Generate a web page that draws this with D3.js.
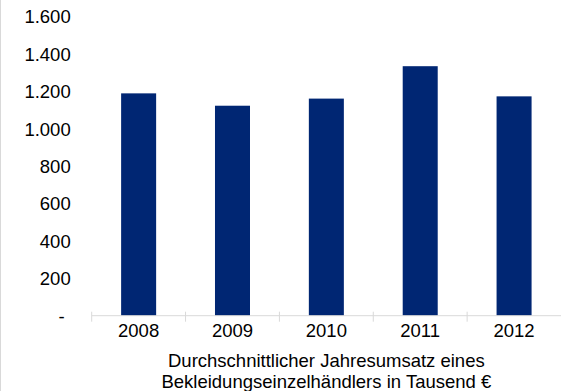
<!DOCTYPE html>
<html>
<head>
<meta charset="utf-8">
<script src="https://cdn.jsdelivr.net/npm/d3@7"></script>
<style>
  html, body { margin: 0; padding: 0; background: #fff; }
  svg { display: block; }
  text { font-family: "Liberation Sans", Arial, sans-serif; fill: #000; }
</style>
</head>
<body>
<svg id="chart" width="561" height="391"></svg>
<script>
// Average annual revenue per clothing retailer (thousand €)
const years = ["2008", "2009", "2010", "2011", "2012"];
const revenue = [1187, 1121, 1159, 1332, 1171];
const yTicks = [0, 200, 400, 600, 800, 1000, 1200, 1400, 1600];
const titleLines = ["Durchschnittlicher Jahresumsatz eines", "Bekleidungseinzelhändlers in Tausend €"];

(function () {
  const svg = d3.select("#chart");
  const W = 561, H = 391;
  const plotLeft = 91.7, plotRight = 561, plotTop = 16, plotBottom = 315.7;
  const fontSize = 18.5;

  // thin frame line on the left edge
  svg.append("line")
    .attr("x1", 0.5).attr("x2", 0.5).attr("y1", 0).attr("y2", H)
    .attr("stroke", "#d9d9d9").attr("stroke-width", 1);

  const x = d3.scaleBand().domain(years).range([plotLeft, plotRight])
    .paddingInner(0.627).paddingOuter(0.3135);
  const y = d3.scaleLinear().domain([0, 1600]).range([plotBottom, plotTop]);

  const fmt = v => v === 0 ? "-" : d3.format(",")(v).replace(/,/g, ".");

  // value axis labels (no axis line)
  const yAxis = svg.append("g").attr("transform", `translate(${plotLeft - 21},0)`)
    .call(d3.axisLeft(y).tickValues(yTicks).tickFormat(fmt).tickSize(0).tickPadding(0));
  yAxis.select(".domain").remove();
  yAxis.selectAll("text")
    .attr("font-size", fontSize)
    .attr("font-family", "Liberation Sans, Arial, sans-serif")
    .attr("fill", "#000")
    .attr("dy", "0.36em")
    .attr("dx", d => d === 0 ? -6 : 0);

  // bars
  svg.append("g").selectAll("rect")
    .data(years.map((yr, i) => ({ yr, v: revenue[i] })))
    .join("rect")
    .attr("x", d => x(d.yr))
    .attr("width", x.bandwidth())
    .attr("y", d => y(d.v))
    .attr("height", d => y(0) - y(d.v))
    .attr("fill", "#002673");

  // category axis: baseline with cross tick marks at category boundaries
  const axisG = svg.append("g");
  axisG.append("line")
    .attr("x1", plotLeft).attr("x2", plotRight)
    .attr("y1", y(0)).attr("y2", y(0))
    .attr("stroke", "#d9d9d9").attr("stroke-width", 1);
  const step = x.step();
  const bounds = d3.range(years.length).map(i => plotLeft + i * step);
  axisG.selectAll("line.tick").data(bounds).join("line")
    .attr("class", "tick")
    .attr("x1", d => d).attr("x2", d => d)
    .attr("y1", y(0) - 4).attr("y2", y(0) + 6)
    .attr("stroke", "#d9d9d9").attr("stroke-width", 1);

  axisG.selectAll("text.cat").data(years).join("text")
    .attr("class", "cat")
    .attr("x", d => x(d) + x.bandwidth() / 2)
    .attr("y", 337)
    .attr("text-anchor", "middle")
    .attr("font-size", fontSize)
    .text(d => d);

  // axis title
  svg.append("text")
    .attr("text-anchor", "middle")
    .attr("font-size", fontSize)
    .selectAll("tspan").data(titleLines).join("tspan")
    .attr("x", (plotLeft + plotRight) / 2)
    .attr("y", (d, i) => 367.3 + i * 20.4)
    .text(d => d);
})();
</script>
</body>
</html>
